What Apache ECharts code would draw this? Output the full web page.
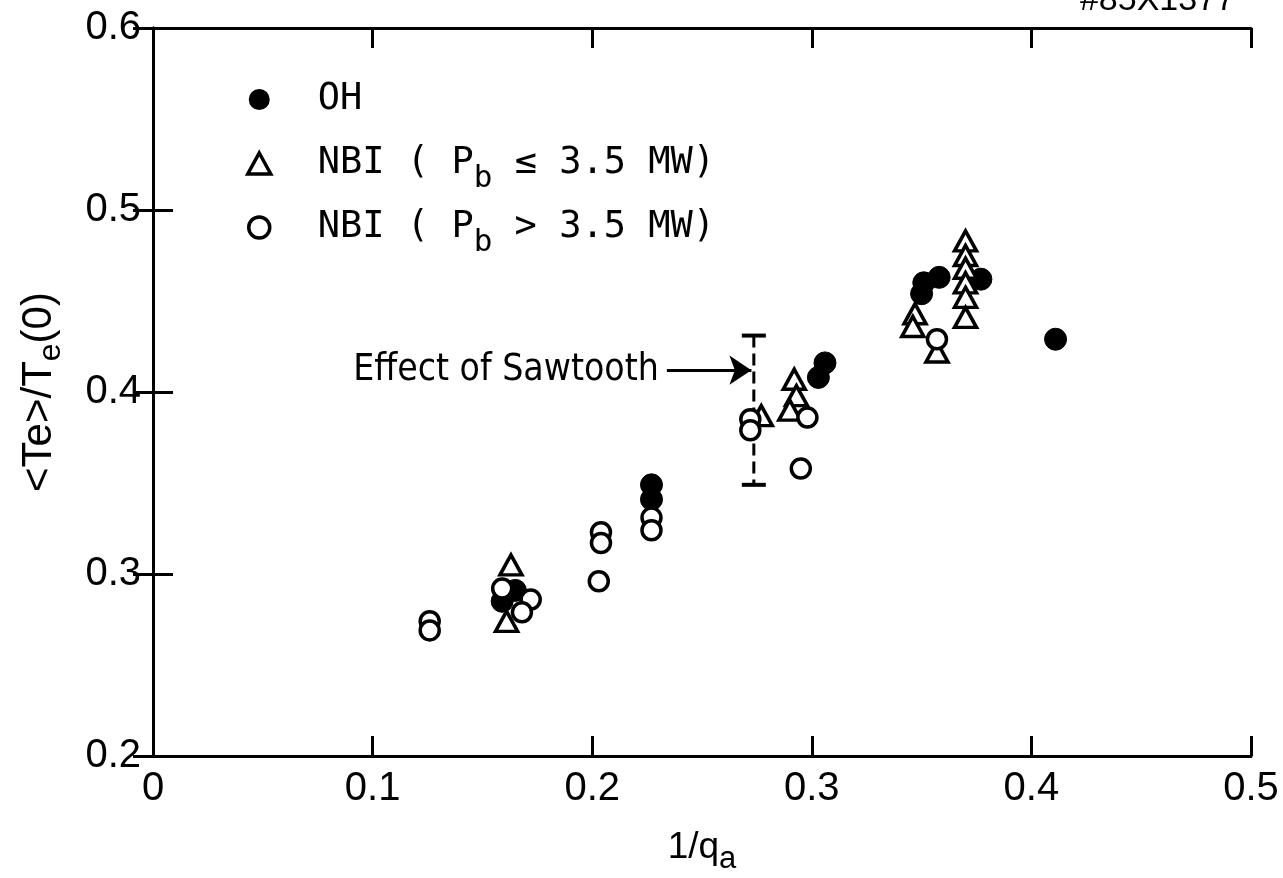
<!DOCTYPE html>
<html>
<head>
<meta charset="utf-8">
<script src="https://cdn.jsdelivr.net/npm/echarts@6/dist/echarts.min.js"></script>
<style>
  html, body { margin: 0; padding: 0; background: #fff; }
  #chart { width: 1283px; height: 878px; }
</style>
</head>
<body>
<div id="chart"></div>
<script>
// OH shots (filled circles): [1/qa, <Te>/Te(0)]
const ohPoints = [
    [0.159, 0.285], [0.165, 0.291], [0.227, 0.349], [0.227, 0.341],
    [0.303, 0.408], [0.306, 0.416], [0.350, 0.454], [0.351, 0.460],
    [0.358, 0.463], [0.377, 0.462], [0.411, 0.429]
];
// NBI, Pb <= 3.5 MW (open triangles)
const nbiLowPoints = [
    [0.163, 0.305], [0.161, 0.274], [0.277, 0.387], [0.292, 0.407],
    [0.293, 0.398], [0.290, 0.390], [0.347, 0.443], [0.346, 0.436],
    [0.357, 0.422], [0.370, 0.483], [0.370, 0.475], [0.370, 0.468],
    [0.370, 0.460], [0.370, 0.452], [0.370, 0.441]
];
// NBI, Pb > 3.5 MW (open circles)
const nbiHighPoints = [
    [0.126, 0.274], [0.126, 0.269], [0.159, 0.292], [0.172, 0.286],
    [0.168, 0.279], [0.204, 0.323], [0.204, 0.317], [0.203, 0.296],
    [0.227, 0.331], [0.227, 0.324], [0.272, 0.385], [0.272, 0.379],
    [0.298, 0.386], [0.295, 0.358], [0.357, 0.429]
];
// sawtooth error bar: [x, low, high]
const sawtoothBar = [[0.2736, 0.349, 0.431]];
// annotation arrow from label to the bar
const arrowStart = [0.234, 0.412];
const arrowEnd = [0.2725, 0.412];

const xTicks = { min: 0, max: 0.5, interval: 0.1 };
const yTicks = { min: 0.2, max: 0.6, interval: 0.1 };

const chartDom = document.getElementById('chart');
const myChart = echarts.init(chartDom);

const labelFont = "'Liberation Sans', Arial, sans-serif";
const monoFont = "'DejaVu Sans Mono', monospace";
const axisLine = { lineStyle: { color: '#000', width: 3 } };
const tickStyle = { inside: true, length: 20, lineStyle: { color: '#000', width: 3 } };

function fmtTick(v) {
    return v === 0 ? '0' : v.toFixed(1);
}

const legendRich = {
    g: { width: 42 },
    t: { fontFamily: monoFont, fontSize: 37, lineHeight: 40, color: '#000', verticalAlign: 'middle' },
    s: { fontFamily: monoFont, fontSize: 31, lineHeight: 30, padding: [30, 0, 0, 0], color: '#000', verticalAlign: 'middle' }
};

const option = {
    backgroundColor: '#fff',
    animation: false,
    grid: { left: 153, right: 32, top: 28, bottom: 122, containLabel: false, outerBoundsMode: 'none' },
    legend: {
        orient: 'vertical',
        left: 241,
        top: 64,
        itemWidth: 23,
        itemHeight: 21,
        itemGap: 3,
        selectedMode: false,
        data: [
            { name: 'OH', itemStyle: { borderWidth: 0 } },
            { name: 'NBI low', itemStyle: { borderWidth: 3.5 } },
            { name: 'NBI high', itemStyle: { borderWidth: 3.5 } }
        ],
        formatter: function (name) {
            if (name === 'OH') return '{g| }{t|OH}{s| }';
            if (name === 'NBI low') return '{g| }{t|NBI ( P}{s|b}{t| ≤ 3.5 MW)}';
            return '{g| }{t|NBI ( P}{s|b}{t| > 3.5 MW)}';
        },
        textStyle: { rich: legendRich }
    },
    graphic: [{
        type: 'text',
        right: 48,
        top: -16,
        style: { text: '#85X1377', font: "34px 'Liberation Sans', Arial, sans-serif", fill: '#000' }
    }],
    xAxis: [{
        type: 'value',
        min: xTicks.min, max: xTicks.max, interval: xTicks.interval,
        position: 'bottom',
        axisLine: axisLine,
        axisTick: tickStyle,
        splitLine: { show: false },
        axisLabel: { formatter: fmtTick, fontFamily: labelFont, fontSize: 40, color: '#000', margin: 13 },
        name: '{t|1/q}{s|a}',
        nameLocation: 'middle',
        nameGap: 72,
        nameTextStyle: {
            rich: {
                t: { fontFamily: labelFont, fontSize: 37, lineHeight: 40, color: '#000', verticalAlign: 'middle' },
                s: { fontFamily: labelFont, fontSize: 31, lineHeight: 30, padding: [22, 0, 0, 0], color: '#000', verticalAlign: 'middle' }
            }
        }
    }, {
        type: 'value',
        min: xTicks.min, max: xTicks.max, interval: xTicks.interval,
        position: 'top',
        axisLine: axisLine,
        axisTick: tickStyle,
        splitLine: { show: false },
        axisLabel: { show: false }
    }],
    yAxis: [{
        type: 'value',
        min: yTicks.min, max: yTicks.max, interval: yTicks.interval,
        position: 'left',
        axisLine: axisLine,
        axisTick: tickStyle,
        splitLine: { show: false },
        axisLabel: { formatter: fmtTick, fontFamily: labelFont, fontSize: 40, color: '#000', margin: 12 },
        name: '{t|<Te>/T}{s|e}{t|(0)}',
        nameLocation: 'middle',
        nameGap: 92,
        nameRotate: 90,
        nameTextStyle: {
            rich: {
                t: { fontFamily: labelFont, fontSize: 42, lineHeight: 44, color: '#000', verticalAlign: 'middle' },
                s: { fontFamily: labelFont, fontSize: 32, lineHeight: 30, padding: [24, 0, 0, 0], color: '#000', verticalAlign: 'middle' }
            }
        }
    }, {
        type: 'value',
        min: yTicks.min, max: yTicks.max, interval: yTicks.interval,
        position: 'right',
        axisLine: axisLine,
        axisTick: tickStyle,
        splitLine: { show: false },
        axisLabel: { show: false }
    }],
    series: [
        {
            name: 'Sawtooth',
            type: 'custom',
            silent: true,
            z: 1,
            data: sawtoothBar,
            encode: { x: 0, y: [1, 2] },
            renderItem: function (params, api) {
                const x = api.value(0);
                const top = api.coord([x, api.value(2)]);
                const bot = api.coord([x, api.value(1)]);
                const half = 12;
                return {
                    type: 'group',
                    children: [
                        { type: 'line', shape: { x1: top[0], y1: top[1], x2: bot[0], y2: bot[1] },
                          style: { stroke: '#000', lineWidth: 3, lineDash: [12, 6] } },
                        { type: 'line', shape: { x1: top[0] - half, y1: top[1], x2: top[0] + half, y2: top[1] },
                          style: { stroke: '#000', lineWidth: 4 } },
                        { type: 'line', shape: { x1: bot[0] - half, y1: bot[1], x2: bot[0] + half, y2: bot[1] },
                          style: { stroke: '#000', lineWidth: 4 } }
                    ]
                };
            },
            markLine: {
                silent: true,
                symbol: ['none', 'arrow'],
                symbolSize: 22,
                lineStyle: { color: '#000', width: 3, type: 'solid' },
                itemStyle: { color: '#000' },
                label: {
                    show: true,
                    position: 'start',
                    distance: 8,
                    formatter: 'Effect of Sawtooth',
                    fontFamily: "'Liberation Sans Narrow', 'DejaVu Sans Condensed', sans-serif",
                    fontSize: 37,
                    color: '#000'
                },
                data: [[{ coord: arrowStart }, { coord: arrowEnd }]]
            }
        },
        {
            name: 'OH',
            type: 'scatter',
            symbol: 'circle',
            symbolSize: 22,
            z: 3,
            itemStyle: { color: '#000', borderColor: '#000', borderWidth: 1, opacity: 1 },
            data: ohPoints
        },
        {
            name: 'NBI low',
            type: 'scatter',
            symbol: 'triangle',
            symbolSize: [22, 20],
            z: 4,
            itemStyle: { color: '#fff', borderColor: '#000', borderWidth: 3.5, opacity: 1 },
            data: nbiLowPoints
        },
        {
            name: 'NBI high',
            type: 'scatter',
            symbol: 'circle',
            symbolSize: 19,
            z: 4,
            itemStyle: { color: '#fff', borderColor: '#000', borderWidth: 3.5, opacity: 1 },
            data: nbiHighPoints
        }
    ]
};
myChart.setOption(option);
</script>
</body>
</html>
